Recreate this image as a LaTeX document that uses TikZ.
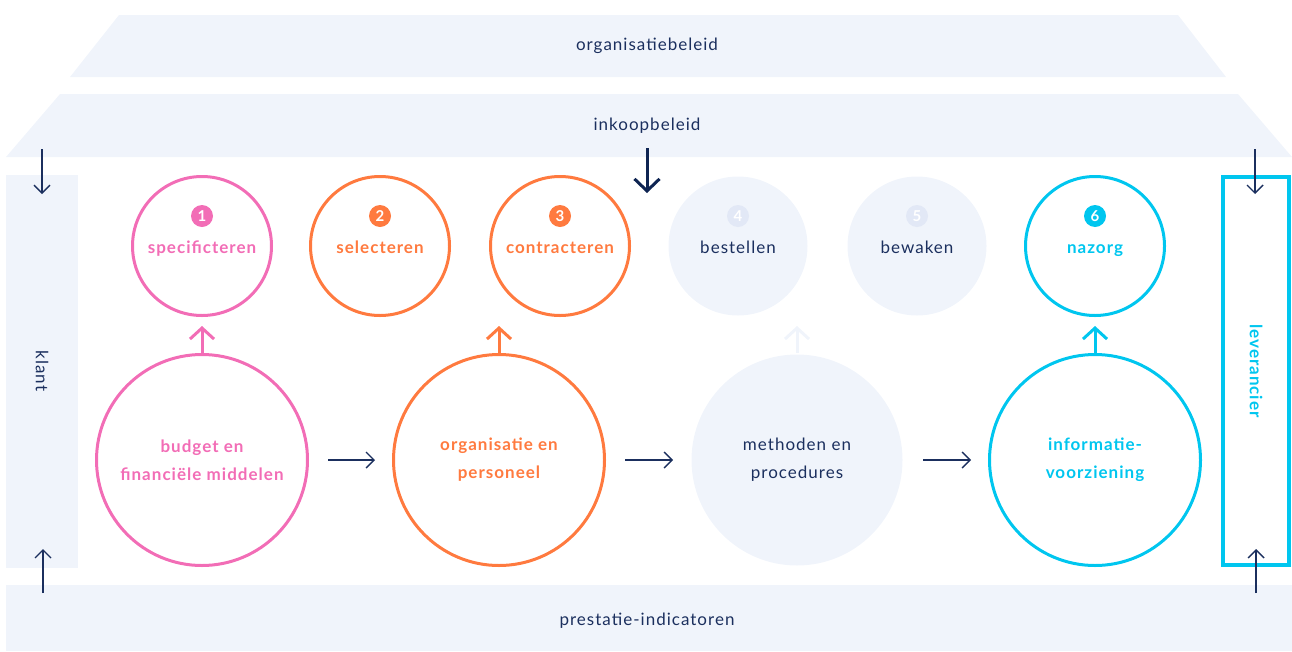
\documentclass[tikz,border=0pt]{standalone}
\usepackage{fontspec}
\setmainfont{Lato}[LetterSpace=6]
\usetikzlibrary{arrows.meta}
\definecolor{pinkc}{HTML}{F26DB6}
\definecolor{orangec}{HTML}{FF7A3F}
\definecolor{cyanc}{HTML}{00C6EF}
\definecolor{navyc}{HTML}{1B2F5E}
\definecolor{navyd}{HTML}{0E2452}
\definecolor{bgl}{HTML}{F0F4FB}
\definecolor{badgel}{HTML}{E2E8F6}
\begin{document}
\begin{tikzpicture}[x=1pt,y=-1pt,
  lbl/.style={text=navyc,font=\fontsize{17}{20}\selectfont},
  phase/.style={circle,minimum size=139pt,inner sep=0pt,line width=3pt},
  resource/.style={circle,minimum size=211pt,inner sep=0pt,line width=3pt,align=center,
    font=\bfseries\fontsize{17}{28}\selectfont},
  badge/.style={circle,minimum size=22pt,inner sep=0pt,text=white,
    font=\bfseries\fontsize{15}{15}\selectfont},
  ptext/.style={anchor=base,font=\bfseries\fontsize{17}{20}\selectfont},
  plain/.style={anchor=base,text=navyc,font=\fontsize{17}{20}\selectfont},
  thin/.style={navyc,line width=1.4pt,-{Straight Barb[length=8pt,width=16pt,line width=1.4pt]}},
  thick/.style={line width=3pt,-{Straight Barb[length=11pt,width=24pt,line width=3pt]}},
]
\useasboundingbox (0,0) rectangle (1292,651);

% roof layers and side/base bars
\fill[bgl] (119,15) -- (1178,15) -- (1226,77) -- (70,77) -- cycle;
\fill[bgl] (60,94) -- (1238,94) -- (1292,157) -- (6,157) -- cycle;
\fill[bgl] (6,175) rectangle (78,568);
\fill[bgl] (6,585) rectangle (1292,651);
\node[draw=cyanc,line width=4pt,minimum width=66pt,minimum height=388pt,inner sep=0pt]
  (lev) at (1256,371) {};

\node[lbl] (org) at (647,46) {organisatiebeleid};
\node[lbl] (ink) at (647,126) {inkoopbeleid};
\node[lbl] (pre) at (647,621) {prestatie-indicatoren};
\node[lbl,rotate=-90] (kl) at (42,371) {klant};
\node[lbl,text=cyanc,font=\bfseries\fontsize{17}{20}\selectfont,rotate=-90] (levt) at (1256,371) {leverancier};

% six phases
\node[phase,draw=pinkc] (p1) at (202,246) {};
\node[phase,draw=orangec] (p2) at (380,246) {};
\node[phase,draw=orangec] (p3) at (560,246) {};
\node[phase,fill=bgl] (p4) at (738,246) {};
\node[phase,fill=bgl] (p5) at (917,246) {};
\node[phase,draw=cyanc] (p6) at (1095,246) {};

\node[badge,fill=pinkc] (b1) at (202,216) {1};
\node[badge,fill=orangec] (b2) at (380,216) {2};
\node[badge,fill=orangec] (b3) at (560,216) {3};
\node[badge,fill=badgel] (b4) at (738,216) {4};
\node[badge,fill=badgel] (b5) at (917,216) {5};
\node[badge,fill=cyanc] (b6) at (1095,216) {6};

\node[ptext,text=pinkc] (t1) at (202,253) {specificteren};
\node[ptext,text=orangec] (t2) at (380,253) {selecteren};
\node[ptext,text=orangec] (t3) at (560,253) {contracteren};
\node[plain] (t4) at (738,253) {bestellen};
\node[plain] (t5) at (917,253) {bewaken};
\node[ptext,text=cyanc] (t6) at (1095,253) {nazorg};

% four resources
\node[resource,draw=pinkc,text=pinkc] (r1) at (202,460) {budget en\\financiële middelen};
\node[resource,draw=orangec,text=orangec] (r2) at (499,460) {organisatie en\\personeel};
\node[resource,fill=bgl,text=navyc,font=\fontsize{17}{28}\selectfont] (r3) at (797,460) {methoden en\\procedures};
\node[resource,draw=cyanc,text=cyanc] (r4) at (1095,460) {informatie-\\voorziening};

% tips of the upward arrows
\coordinate (u1) at (202,326);
\coordinate (u2) at (499,326);
\coordinate (u3) at (797,326);
\coordinate (u4) at (1095,326);
\draw[thick,pinkc] (r1.north) -- (u1);
\draw[thick,orangec] (r2.north) -- (u2);
\draw[thick,bgl] (r3.north) -- (u3);
\draw[thick,cyanc] (r4.north) -- (u4);

\draw[thin,shorten <=19pt,shorten >=17pt] (r1) -- (r2);
\draw[thin,shorten <=19pt,shorten >=17pt] (r2) -- (r3);
\draw[thin,shorten <=19pt,shorten >=17pt] (r3) -- (r4);

% policy arrow
\coordinate (ia) at (647,148);
\coordinate (ib) at (647,193);
\draw[navyd,line width=3pt,-{Straight Barb[length=12pt,width=25pt,line width=3pt]}] (ia) -- (ib);

% client and supplier arrows
\coordinate (k1) at (42,149);
\coordinate (k2) at (42,194);
\coordinate (k3) at (43,593);
\coordinate (k4) at (43,549);
\coordinate (l1) at (1255,149);
\coordinate (l2) at (1255,194);
\coordinate (l3) at (1256,593);
\coordinate (l4) at (1256,549);
\draw[thin] (k1) -- (k2);
\draw[thin] (k3) -- (k4);
\draw[thin] (l1) -- (l2);
\draw[thin] (l3) -- (l4);
\end{tikzpicture}
\end{document}
